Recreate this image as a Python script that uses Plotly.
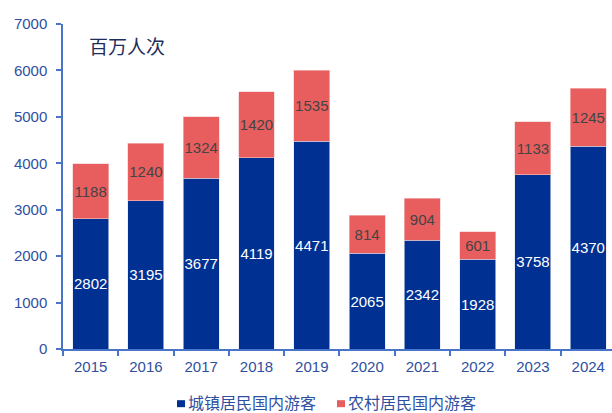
import plotly.graph_objects as go

years = ["2015", "2016", "2017", "2018", "2019", "2020", "2021", "2022", "2023", "2024"]
urban = [2802, 3195, 3677, 4119, 4471, 2065, 2342, 1928, 3758, 4370]
rural = [1188, 1240, 1324, 1420, 1535, 814, 904, 601, 1133, 1245]
series_names = ["城镇居民国内游客", "农村居民国内游客"]

BLUE = "#003192"
RED = "#E85E5E"
AXIS = "#4A74C9"
TICK = "#2F4FA0"
CJK = "Noto Sans CJK SC, sans-serif"

fig = go.Figure()
fig.add_trace(go.Bar(
    x=years, y=urban, name=series_names[0],
    marker=dict(color=BLUE, line=dict(color="#DDE3F0", width=0.6)),
    text=urban, textposition="inside", insidetextanchor="middle", constraintext="none",
    textfont=dict(color="white", size=15), textangle=0,
))
fig.add_trace(go.Bar(
    x=years, y=rural, name=series_names[1],
    marker=dict(color=RED, line=dict(color="#F3C8C8", width=0.6)),
    text=rural, textposition="inside", insidetextanchor="middle", constraintext="none",
    textfont=dict(color="#444444", size=15), textangle=0,
))

# unit label
fig.add_annotation(x=0.044, y=0.935, xref="paper", yref="paper", text="百万人次",
                   showarrow=False, xanchor="left", yanchor="middle",
                   font=dict(size=19, color="#1F2D5A", family=CJK))

# legend drawn by hand (plotly's legend would push the margins)
legend_items = [(0.2077, BLUE, series_names[0]), (0.4991, RED, series_names[1])]
for x0, color, label in legend_items:
    fig.add_shape(type="rect", xref="paper", yref="paper",
                  x0=x0, x1=x0 + 0.0146, y0=-0.1790, y1=-0.1575,
                  fillcolor=color, line_width=0)
    fig.add_annotation(x=x0 + 0.0175, y=-0.163, xref="paper", yref="paper", text=label,
                       showarrow=False, xanchor="left", yanchor="middle", borderpad=0,
                       font=dict(size=16, color=TICK, family=CJK))

fig.update_layout(
    barmode="stack",
    bargap=0.35,
    width=612, height=413,
    paper_bgcolor="white", plot_bgcolor="white",
    font=dict(family="Liberation Sans, Arial, sans-serif", color=TICK, size=15),
    margin=dict(l=63, r=0, t=24, b=64),
    showlegend=False,
    xaxis=dict(range=[-0.5, 9.43], showline=True, linecolor=AXIS, linewidth=1.5,
               ticks="outside", tickson="boundaries", tickcolor=AXIS, ticklen=5,
               tickwidth=1.5, tickfont=dict(size=15, color=TICK), showgrid=False,
               ticklabelstandoff=3, automargin=False),
    yaxis=dict(range=[0, 7000], dtick=1000, showline=True, linecolor=AXIS, linewidth=1.5,
               ticks="outside", tickcolor=AXIS, ticklen=5, tickwidth=1.5,
               tickfont=dict(size=15, color=TICK), showgrid=False, zeroline=False,
               ticklabelstandoff=6, automargin=False),
)

# drop the page's default body margin so the figure sits at the window corner
fig.write_html("out.html", config={"displayModeBar": False},
               post_script="document.body.style.margin='0';document.body.style.overflow='hidden';")
